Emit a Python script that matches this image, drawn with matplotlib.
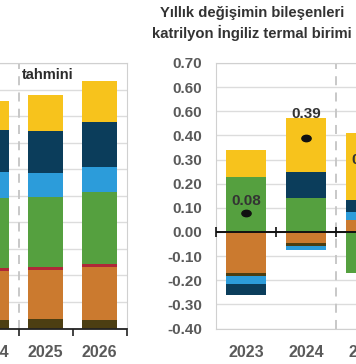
import matplotlib
matplotlib.use("Agg")
import matplotlib.pyplot as plt
from matplotlib.markers import MarkerStyle
from matplotlib.transforms import Affine2D
import numpy as np

plt.rcParams['font.family'] = ['Liberation Sans', 'DejaVu Sans']

# ---------------- data ----------------
# Left panel (levels, quadrillion Btu), partially visible
left_years = ['2024', '2025', '2026']
left_brown = [0.32, 0.35, 0.32]
left_orange = [1.85, 1.86, 2.00]
left_red = [0.10, 0.10, 0.10]
left_green = [2.65, 2.66, 2.72]
left_lightblue = [0.99, 0.88, 0.94]
left_navy = [1.57, 1.57, 1.69]
left_yellow = [1.07, 1.38, 1.57]

# Right panel (annual change components)
right_years = ['2023', '2024', '2025']
chg_orange = [-0.170, -0.047, 0.050]
chg_brown = [-0.012, -0.012, 0.0]
chg_red = [0.0, 0.0, 0.0]
chg_green = [0.226, 0.140, -0.169]
chg_lightblue = [-0.035, -0.017, 0.034]
chg_navy = [-0.044, 0.110, 0.049]
chg_yellow = [0.113, 0.222, 0.277]
net_change = [0.08, 0.39, 0.24]
net_labels = ['0.08', '0.39', '0.24']

right_yticks = [0.70, 0.60, 0.50, 0.40, 0.30, 0.20, 0.10, 0.00, -0.10, -0.20, -0.30, -0.40]
right_yticklabels = ['0.70', '0.60', '0.60', '0.40', '0.30', '0.20', '0.10', '0.00',
                     '-0.10', '-0.20', '-0.30', '-0.40']

title_lines = ['Yıllık değişimin bileşenleri', 'katrilyon İngiliz termal birimi']
forecast_text = 'tahmini'

# ---------------- style ----------------
C = {
    'yellow': '#F7C31C',
    'navy': '#0B3D5B',
    'lightblue': '#2C9CDA',
    'green': '#55A03F',
    'red': '#B02838',
    'orange': '#CB7A2F',
    'brown': '#4C3E12',
}
GRID = '#dcdcdc'
FRAME = '#d0d0d0'
TXT = '#5a5a5a'

W, H = 356, 364
fig = plt.figure(figsize=(W / 100, H / 100), dpi=100)

def fx(px):
    return px / W

def fy(py):
    return py / H

top_px, bot_px = 63, 328.5

# ---------------- left panel ----------------
lstep = 54.0
lright = 126.5
lxlim = (-1.5, 2.5)
lwidth_px = lstep * (lxlim[1] - lxlim[0])
axL = fig.add_axes([fx(lright - lwidth_px), fy(H - bot_px), fx(lwidth_px), fy(bot_px - top_px)])
xl = np.arange(len(left_years))
bottom = np.zeros(len(left_years))
for vals, key in [(left_brown, 'brown'), (left_orange, 'orange'), (left_red, 'red'),
                  (left_green, 'green'), (left_lightblue, 'lightblue'),
                  (left_navy, 'navy'), (left_yellow, 'yellow')]:
    axL.bar(xl, vals, 0.66, bottom=bottom, color=C[key], zorder=2)
    bottom += np.array(vals)
axL.set_xlim(*lxlim)
axL.set_ylim(0, 10)
axL.set_yticks(np.arange(0, 11, 1))
axL.yaxis.grid(True, color=GRID, lw=1, zorder=0)
axL.set_axisbelow(True)
axL.tick_params(axis='y', length=0, labelleft=False)
axL.set_xticks(xl)
axL.set_xticklabels(left_years, fontsize=11.5, fontweight='bold', color=TXT)
axL.set_xticks(np.arange(-1.5, 3.0, 1.0), minor=True)
axL.tick_params(axis='x', which='major', length=0, pad=12)
axL.tick_params(axis='x', which='minor', length=5, width=1.2, color='#222222', direction='out')
for s in ['top', 'right', 'left']:
    axL.spines[s].set_color(FRAME)
axL.spines['bottom'].set_color('#222222')
axL.spines['bottom'].set_linewidth(1.3)
axL.axvline(0.5, color='#c4c4c4', lw=1.3, ls=(0, (5, 4)), zorder=1)
axL.text(0.57, 0.955, forecast_text, transform=axL.get_xaxis_transform(),
         ha='left', va='center', fontsize=10.5, fontweight='bold', color='#2b2b2b')

# ---------------- right panel ----------------
rstep = 60.0
rleft = 216.0
rxlim = (-0.5, 3.5)
rwidth_px = rstep * (rxlim[1] - rxlim[0])
axR = fig.add_axes([fx(rleft), fy(H - bot_px), fx(rwidth_px), fy(bot_px - top_px)])
xr = np.arange(len(right_years))
pos = np.zeros(len(right_years))
neg = np.zeros(len(right_years))
for vals, key in [(chg_orange, 'orange'), (chg_brown, 'brown'), (chg_red, 'red'),
                  (chg_green, 'green'), (chg_lightblue, 'lightblue'),
                  (chg_navy, 'navy'), (chg_yellow, 'yellow')]:
    v = np.array(vals)
    b = np.where(v >= 0, pos, neg)
    axR.bar(xr, v, 0.66, bottom=b, color=C[key], zorder=2)
    pos = pos + np.where(v >= 0, v, 0)
    neg = neg + np.where(v < 0, v, 0)

axR.set_xlim(*rxlim)
axR.set_ylim(-0.40, 0.70)
axR.set_yticks(right_yticks)
axR.set_yticklabels(right_yticklabels, fontsize=11, fontweight='bold', color=TXT)
axR.tick_params(axis='y', length=0, pad=10)
axR.yaxis.grid(True, color=GRID, lw=1, zorder=0)
axR.set_axisbelow(True)
axR.set_xticks(xr)
axR.set_xticklabels(right_years, fontsize=11.5, fontweight='bold', color=TXT)
axR.tick_params(axis='x', length=0, pad=12)
for s in ['top', 'right', 'left', 'bottom']:
    axR.spines[s].set_color(FRAME)

axR.axhline(0, color='#111111', lw=1.4, zorder=3)
bounds = np.arange(rxlim[0], rxlim[1] + 0.01, 1.0)
axR.plot(bounds, np.zeros_like(bounds), ls='none', marker='|', ms=6.5, mew=1.2,
         color='#111111', zorder=4, clip_on=False)
axR.axvline(1.5, color='#c4c4c4', lw=1.3, ls=(0, (5, 4)), zorder=1)

dot = MarkerStyle('o', transform=Affine2D().scale(1.45, 1.0))
axR.plot(xr, net_change, ls='none', marker=dot, ms=4.6, color='#111111', zorder=5)
label_offsets = [8.5, 17.5, 10.0]
for xi, v, lab, off in zip(xr, net_change, net_labels, label_offsets):
    axR.annotate(lab, (xi, v), xytext=(0, off), textcoords='offset points',
                 ha='center', va='center', fontsize=11, fontweight='bold',
                 color='#333333', zorder=6)

# ---------------- title ----------------
fig.text(fx(252), fy(H - 13), title_lines[0], ha='center', va='center',
         fontsize=10.7, fontweight='bold', color='#333333')
fig.text(fx(252), fy(H - 33), title_lines[1], ha='center', va='center',
         fontsize=10.7, fontweight='bold', color='#333333')

fig.savefig('out.png', dpi=100)
